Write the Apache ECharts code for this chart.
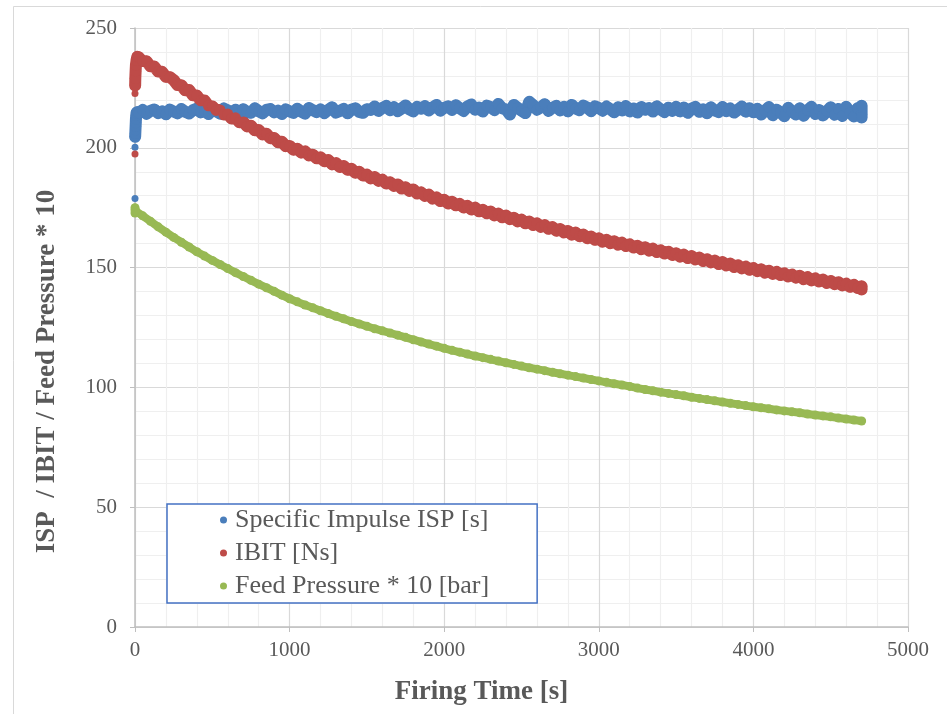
<!DOCTYPE html>
<html>
<head>
<meta charset="utf-8">
<script src="https://cdn.jsdelivr.net/npm/echarts@6/dist/echarts.min.js"></script>
<style>html,body{margin:0;padding:0;background:#fff}#c{width:947px;height:714px}</style>
</head>
<body>
<div id="c"></div>
<script>
// ---- data ----
const SERIES_NAMES = ['Specific Impulse ISP [s]', 'IBIT [Ns]', 'Feed Pressure * 10 [bar]'];
const X_TICKS = [0, 1000, 2000, 3000, 4000, 5000];
const Y_TICKS = [0, 50, 100, 150, 200, 250];

// isolated start-up samples
const ISP_OUT_T = [0, 0];
const ISP_OUT_V = [178.8, 200.2];
const IBIT_OUT_T = [0, 0];
const IBIT_OUT_V = [197.4, 222.7];

// start-up samples (irregular times)
const ISP_START_T = [1, 2, 3, 4, 5, 6, 8, 10, 15];
const ISP_START_V = [204.6, 206.0, 207.5, 209.0, 210.5, 212.0, 213.5, 214.6, 215.2];
const IBIT_START_T = [1, 2, 4, 6, 10, 15];
const IBIT_START_V = [226.0, 229.0, 232.0, 234.5, 236.5, 238.0];
const FEED_START_T = [0, 0, 5];
const FEED_START_V = [172.8, 175.0, 173.6];

// regular samples: ISP & IBIT every 25 s from 25 s, Feed every 50 s from 0 s
const ISP_STEP = 25, IBIT_STEP = 25, FEED_STEP = 50;
const ISP_V = [
214.6,215.8,214.2,215.4,216.0,214.5,215.2,214.0,215.9,215.1,214.4,216.2,215.0,214.3,215.7,216.3,214.8,215.3,214.1,216.0,
215.2,214.3,216.4,215.6,214.7,215.9,214.2,216.1,215.0,214.6,216.5,215.3,214.4,215.8,216.2,214.8,215.5,214.1,216.0,215.2,
214.6,216.3,215.1,214.3,216.6,215.7,214.9,216.0,214.5,215.8,216.9,214.7,215.4,216.2,214.4,215.9,216.5,215.0,214.6,216.1,
215.8,217.2,215.4,216.6,217.5,215.7,216.9,215.3,216.4,217.7,216.0,215.2,217.1,216.3,217.4,215.6,216.8,217.9,215.5,216.7,
217.3,215.8,217.8,216.5,215.4,217.2,218.1,215.9,216.8,215.1,217.6,217.0,215.7,218.3,216.5,216.0,213.9,217.9,216.7,215.5,
214.5,219.2,217.8,215.9,216.9,218.2,215.4,216.7,217.5,215.6,217.1,215.2,217.9,216.4,215.7,217.6,216.8,215.3,217.3,216.6,
215.5,217.2,216.1,214.8,216.9,215.6,217.4,215.2,216.4,214.7,217.0,215.9,216.6,215.1,217.3,216.0,214.9,216.7,215.4,217.1,
215.2,216.8,214.6,216.3,217.1,215.0,216.0,214.4,216.9,215.6,214.9,217.0,215.3,216.4,214.7,215.9,217.2,215.1,216.5,214.8,
216.3,213.9,215.5,217.0,213.6,215.9,214.8,213.2,216.7,215.1,213.9,216.5,213.4,215.6,217.1,214.1,215.8,213.5,215.3,216.9,
213.8,216.2,213.3,217.1,214.7,213.1,216.6,214.0
];
const ISP_END_T = [4700, 4700];
const ISP_END_V = [217.6, 212.6];

const IBIT_V = [
238.0,236.2,236.1,234.0,233.9,231.8,231.7,229.6,229.5,228.3,226.2,226.1,224.0,224.1,221.9,221.8,219.6,219.7,217.5,217.3,
215.6,215.8,213.9,214.1,212.2,212.5,210.7,210.8,208.9,209.2,207.3,207.4,205.6,205.9,204.0,204.1,202.3,202.5,200.7,200.8,
199.2,199.6,198.0,198.5,196.8,197.1,195.6,196.0,194.4,194.9,193.1,193.6,192.0,192.4,190.8,191.2,189.6,190.0,188.4,188.8,
187.2,187.8,186.2,186.7,185.1,185.6,184.1,184.7,183.0,183.5,182.0,182.6,180.9,181.4,179.9,180.5,178.8,179.3,177.8,178.3,
176.8,177.5,176.0,176.6,175.1,175.8,174.3,175.0,173.5,174.1,172.7,173.4,171.8,172.5,171.0,171.7,170.2,170.8,169.3,170.0,
168.5,169.2,167.8,168.5,167.0,167.7,166.2,166.9,165.4,166.1,164.7,165.3,163.8,164.6,163.1,163.8,162.3,163.0,161.6,162.2,
160.8,161.6,160.2,161.0,159.6,160.4,159.0,159.7,158.4,159.1,157.7,158.5,157.1,157.9,156.5,157.2,155.9,156.6,155.3,156.0,
154.6,155.4,154.0,154.8,153.4,154.2,152.8,153.5,152.2,152.9,151.5,152.3,150.9,151.7,150.3,151.0,149.7,150.4,149.1,149.8,
148.5,149.3,147.9,148.7,147.4,148.2,146.9,147.6,146.3,147.1,145.8,146.6,145.2,146.0,144.7,145.5,144.2,145.0,143.6,144.4,
143.1,143.9,142.6,143.3,142.0,142.8,141.5,142.2
];
const IBIT_END_T = [4700];
const IBIT_END_V = [140.9];

const FEED_V = [
174.0,171.6,169.3,167.0,164.8,162.6,160.6,158.6,156.6,154.8,153.0,151.3,149.6,147.9,146.3,144.7,143.1,141.6,140.1,138.5,
137.0,135.7,134.4,133.2,132.0,130.8,129.7,128.6,127.5,126.5,125.5,124.5,123.6,122.7,121.8,120.9,119.9,119.0,118.1,117.2,
116.3,115.5,114.7,113.9,113.1,112.4,111.7,111.0,110.3,109.6,108.9,108.2,107.6,107.0,106.3,105.7,105.1,104.5,103.9,103.3,
102.7,102.1,101.5,101.0,100.4,99.7,99.1,98.6,98.0,97.5,97.0,96.5,95.9,95.4,94.9,94.4,93.9,93.4,92.9,92.4,
91.9,91.5,91.1,90.6,90.2,89.8,89.4,88.9,88.5,88.1,87.7,87.2,86.8,86.4,86.0
];

const COLORS = ['#4a7ebb', '#be4b48', '#98b954'];

// ---- build point lists ----
function pts(startT, startV, step, firstT, vals, endT, endV) {
  const out = [];
  startT.forEach((t, i) => out.push([t, startV[i]]));
  vals.forEach((v, i) => out.push([firstT + i * step, v]));
  (endT || []).forEach((t, i) => out.push([t, endV[i]]));
  return out;
}
const zip = (ts, vs) => ts.map((t, i) => [t, vs[i]]);
const ispData = pts(ISP_START_T, ISP_START_V, ISP_STEP, 25, ISP_V, ISP_END_T, ISP_END_V);
const ibitData = pts(IBIT_START_T, IBIT_START_V, IBIT_STEP, 25, IBIT_V, IBIT_END_T, IBIT_END_V);
const feedData = pts(FEED_START_T, FEED_START_V, FEED_STEP, 0, FEED_V, [], []);

const FONT = 'Liberation Serif';
function band(name, data, color, width, size) {
  return {name, type: 'line', data, symbol: 'circle', symbolSize: size, showSymbol: true,
    lineStyle: {color, width, cap: 'round', join: 'round'}, itemStyle: {color, opacity: 1}};
}
function dots(name, data, color) {
  return {name, type: 'scatter', data, symbol: 'circle', symbolSize: 7, itemStyle: {color, opacity: 1}};
}
const chart = echarts.init(document.getElementById('c'), null, {renderer: 'canvas'});
chart.setOption({
  animation: false,
  backgroundColor: '#ffffff',
  color: COLORS,
  graphic: [{
    type: 'rect', silent: true, z: -10,
    shape: {x: 13.5, y: 6.5, width: 945, height: 720},
    style: {fill: 'none', stroke: '#d9d9d9', lineWidth: 1}
  }],
  grid: {left: 135, right: 39, top: 28, bottom: 87, containLabel: false},
  legend: {
    orient: 'vertical',
    left: 167, top: 504,
    padding: [3, 48, 4, 53],
    itemGap: 7,
    itemWidth: 7, itemHeight: 7,
    icon: 'circle',
    backgroundColor: '#ffffff',
    borderColor: '#4472c4',
    borderWidth: 1.5,
    borderRadius: 0,
    textStyle: {fontFamily: FONT, fontSize: 26, color: '#595959', padding: [0, 0, 0, 3]},
    data: SERIES_NAMES
  },
  xAxis: {
    type: 'value', min: X_TICKS[0], max: X_TICKS[X_TICKS.length - 1], interval: 1000,
    name: 'Firing Time [s]', nameLocation: 'middle', nameGap: 52,
    nameTextStyle: {fontFamily: FONT, fontSize: 27, fontWeight: 'bold', color: '#595959', padding: [0, 80, 0, 0]},
    axisLine: {show: true, lineStyle: {color: '#bfbfbf', width: 1.5}},
    axisTick: {show: true, length: 5, lineStyle: {color: '#bfbfbf'}},
    axisLabel: {fontFamily: FONT, fontSize: 21, color: '#595959', margin: 13, formatter: v => String(v)},
    splitLine: {show: true, lineStyle: {color: '#d9d9d9', width: 1.2}},
    minorTick: {show: false, splitNumber: 5},
    minorSplitLine: {show: true, lineStyle: {color: '#efefef', width: 1.2}}
  },
  yAxis: {
    type: 'value', min: Y_TICKS[0], max: Y_TICKS[Y_TICKS.length - 1], interval: 50,
    name: 'ISP  / IBIT / Feed Pressure * 10', nameLocation: 'middle', nameGap: 74,
    nameTextStyle: {fontFamily: FONT, fontSize: 27, fontWeight: 'bold', color: '#595959', padding: [0, 88, 0, 0]},
    axisLine: {show: true, lineStyle: {color: '#bfbfbf', width: 1.5}},
    axisTick: {show: true, length: 5, lineStyle: {color: '#bfbfbf'}},
    axisLabel: {fontFamily: FONT, fontSize: 21, color: '#595959', margin: 18, formatter: v => String(v)},
    splitLine: {show: true, lineStyle: {color: '#d9d9d9', width: 1.2}},
    minorTick: {show: false, splitNumber: 5},
    minorSplitLine: {show: true, lineStyle: {color: '#efefef', width: 1.2}}
  },
  series: [
    band(SERIES_NAMES[0], ispData, COLORS[0], 12, 11),
    dots(SERIES_NAMES[0], zip(ISP_OUT_T, ISP_OUT_V), COLORS[0]),
    band(SERIES_NAMES[1], ibitData, COLORS[1], 12, 11),
    dots(SERIES_NAMES[1], zip(IBIT_OUT_T, IBIT_OUT_V), COLORS[1]),
    band(SERIES_NAMES[2], feedData, COLORS[2], 8, 9)
  ]
});
</script>
</body>
</html>
